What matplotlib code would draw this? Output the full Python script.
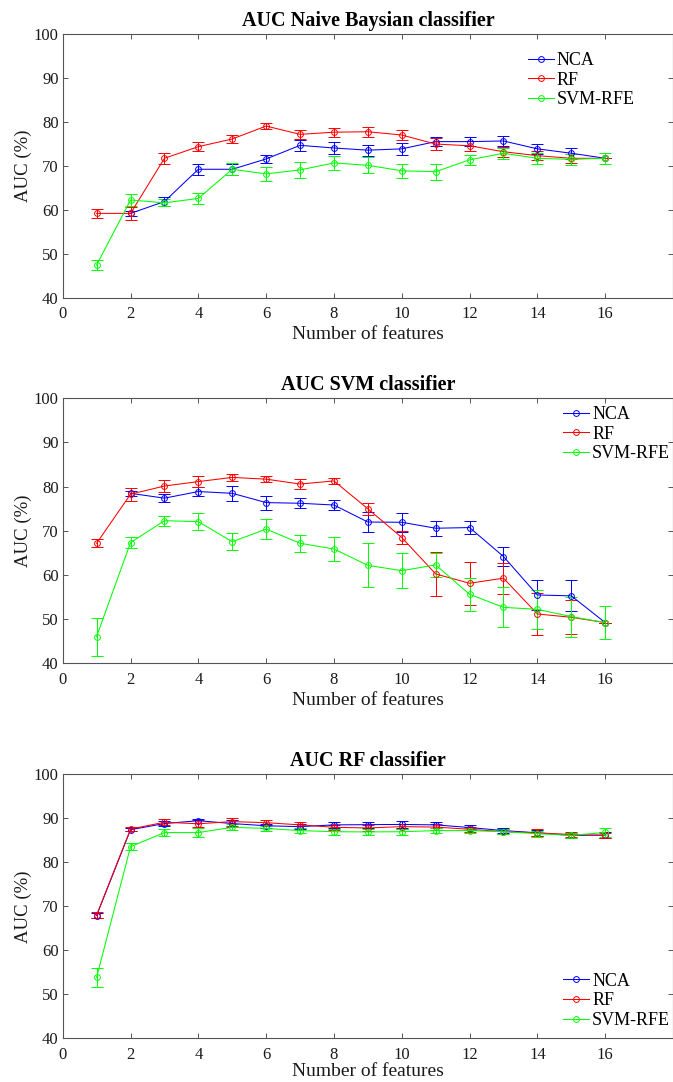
import matplotlib
matplotlib.use("Agg")
import matplotlib.pyplot as plt
from matplotlib.lines import Line2D
import numpy as np

plt.rcParams["font.family"] = ["Liberation Serif", "DejaVu Serif"]

n_features = np.arange(1, 17)
methods = ["NCA", "RF", "SVM-RFE"]
colors = ["#0000ff", "#ff0000", "#00ff00"]
nan = np.nan

# Naive Bayes classifier, mean AUC and spread per feature count
nb_nca = [nan, 59.2, 61.9, 69.25, 69.25, 71.6, 74.7, 74.1, 73.6, 73.9, 75.55, 75.55, 75.7, 73.9, 72.9, 71.75]
nb_nca_err = [nan, 0.5, 1.1, 1.25, 1.25, 0.85, 1.3, 1.3, 1.25, 1.3, 1.1, 1.05, 1.05, 1.2, 1.25, 0.0]
nb_rf = [59.2, 59.2, 71.75, 74.4, 76.15, 79.1, 77.2, 77.7, 77.8, 77.05, 75.0, 74.6, 73.25, 72.35, 71.75, 71.75]
nb_rf_err = [1.1, 1.4, 1.25, 1.1, 1.0, 0.6, 1.0, 1.0, 1.1, 1.1, 1.3, 1.2, 1.1, 1.1, 1.05, 0.0]
nb_svm = [47.45, 62.25, 61.6, 62.6, 69.25, 68.2, 69.1, 70.7, 70.15, 68.9, 68.7, 71.4, 72.9, 71.75, 71.5, 71.75]
nb_svm_err = [1.1, 1.3, 0.8, 1.2, 1.4, 1.55, 1.75, 1.6, 1.8, 1.6, 1.8, 1.2, 1.2, 1.25, 1.25, 1.25]

# SVM classifier
svm_nca = [nan, 78.5, 77.4, 78.9, 78.5, 76.4, 76.25, 75.85, 72.0, 71.95, 70.6, 70.75, 64.2, 55.5, 55.3, 49.25]
svm_nca_err = [nan, 0.5, 0.95, 1.0, 1.7, 1.6, 1.15, 1.15, 2.3, 2.1, 1.7, 1.5, 2.25, 3.5, 3.5, 0.0]
svm_rf = [67.2, 78.3, 80.15, 81.15, 82.1, 81.7, 80.6, 81.3, 75.0, 68.5, 60.25, 58.15, 59.3, 51.2, 50.45, 49.25]
svm_rf_err = [0.9, 1.5, 1.4, 1.3, 0.8, 0.65, 1.2, 0.65, 1.4, 1.5, 4.9, 4.9, 3.5, 4.7, 3.8, 0.0]
svm_svm = [46.1, 67.35, 72.3, 72.1, 67.55, 70.4, 67.2, 65.9, 62.2, 61.0, 62.3, 55.65, 52.7, 52.25, 50.6, 49.25]
svm_svm_err = [4.3, 1.3, 1.15, 1.9, 1.95, 2.25, 1.9, 2.7, 5.0, 4.0, 2.7, 3.8, 4.5, 4.4, 4.5, 3.7]

# RF classifier
rf_nca = [67.9, 87.4, 88.8, 89.45, 88.8, 88.3, 88.1, 88.5, 88.55, 88.6, 88.5, 87.9, 87.2, 86.7, 86.1, 86.2]
rf_nca_err = [0.55, 0.3, 0.6, 0.5, 0.7, 0.5, 0.5, 0.75, 0.7, 0.75, 0.6, 0.6, 0.6, 0.7, 0.5, 0.6]
rf_rf = [68.0, 87.55, 89.1, 88.75, 89.25, 89.0, 88.5, 87.95, 87.8, 88.1, 88.0, 87.5, 86.95, 86.7, 86.3, 86.1]
rf_rf_err = [0.75, 0.45, 0.7, 0.8, 0.9, 0.6, 0.7, 0.6, 0.6, 0.6, 0.6, 0.6, 0.6, 0.8, 0.5, 0.6]
rf_svm = [53.85, 83.55, 86.75, 86.75, 87.95, 87.7, 87.2, 86.95, 86.9, 86.95, 87.2, 87.2, 86.95, 86.5, 86.1, 86.8]
rf_svm_err = [2.2, 0.85, 0.75, 0.95, 0.65, 0.6, 0.6, 0.7, 0.7, 0.7, 0.6, 0.6, 0.6, 0.7, 0.6, 1.1]

titles = ["AUC Naive Baysian classifier", "AUC SVM classifier", "AUC RF classifier"]


def panel(ax, series, errs, title, legend_loc, legend_anchor, xpad=3):
    handles = []
    for vals, err, color, name in zip(series, errs, colors, methods):
        ax.errorbar(n_features, vals, yerr=err, color=color, linewidth=0.75,
                    marker="o", markersize=4.2, markerfacecolor="none",
                    markeredgewidth=0.7, elinewidth=0.75, capsize=4.5,
                    capthick=0.75)
        # legend shows the line and marker only, no error bar
        handles.append(Line2D([], [], color=color, linewidth=0.75, marker="o",
                              markersize=4.2, markerfacecolor="none",
                              markeredgewidth=0.7, label=name))

    ax.set_xlim(0, 18)
    ax.set_ylim(40, 100)
    ax.set_xticks(np.arange(0, 17, 2))
    ax.set_yticks(np.arange(40, 101, 10))
    ax.tick_params(direction="in", length=3.5, width=0.7, top=True, right=True,
                   labelsize=12, colors="#555555", labelcolor="#1a1a1a")
    ax.tick_params(axis="x", pad=6)
    ax.tick_params(axis="y", pad=3)
    for sp in ax.spines.values():
        sp.set_color("#555555")
        sp.set_linewidth(0.8)

    ax.set_title(title, fontsize=14.5, fontweight="bold", pad=6)
    ax.set_xlabel("Number of features", fontsize=14, labelpad=xpad, color="#1a1a1a")
    ax.set_ylabel("AUC (%)", fontsize=13.5, labelpad=1, color="#1a1a1a")

    ax.legend(handles=handles, loc=legend_loc, bbox_to_anchor=legend_anchor,
              frameon=False, fontsize=13, handlelength=1.45, handletextpad=0.15,
              labelspacing=0.15, borderpad=0, borderaxespad=0)


fig = plt.figure(figsize=(6.73, 10.82), dpi=100)
ax1 = fig.add_axes([0.0932, 0.7249, 0.9068, 0.2434])
ax2 = fig.add_axes([0.0932, 0.3868, 0.9068, 0.2451])
ax3 = fig.add_axes([0.0932, 0.0404, 0.9068, 0.2440])

panel(ax1, [nb_nca, nb_rf, nb_svm], [nb_nca_err, nb_rf_err, nb_svm_err],
      titles[0], "upper left", (0.762, 0.933))
panel(ax2, [svm_nca, svm_rf, svm_svm], [svm_nca_err, svm_rf_err, svm_svm_err],
      titles[1], "upper left", (0.82, 0.971))
panel(ax3, [rf_nca, rf_rf, rf_svm], [rf_nca_err, rf_rf_err, rf_svm_err],
      titles[2], "lower left", (0.82, 0.035), xpad=0)

fig.savefig("out.png", dpi=100)
